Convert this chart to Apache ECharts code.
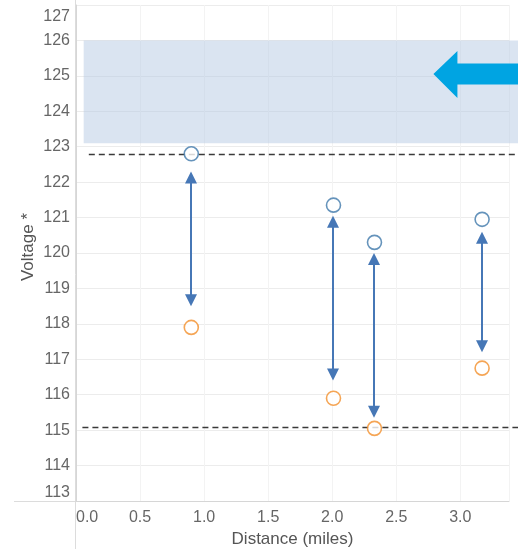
<!DOCTYPE html>
<html>
<head>
<meta charset="utf-8">
<script src="https://cdn.jsdelivr.net/npm/echarts@6/dist/echarts.min.js"></script>
<style>
  html, body { margin: 0; padding: 0; background: #fff; }
  #chart { width: 518px; height: 549px; }
</style>
</head>
<body>
<div id="chart"></div>
<script>
// Measured voltages along the feeder (miles from the substation)
const distance    = [0.9, 2.01, 2.33, 3.17];
const voltageHigh = [122.8, 121.35, 120.3, 120.95];
const voltageLow  = [117.9, 115.9, 115.05, 116.75];
// Span of each double-headed arrow between the paired readings
const arrowTop    = [122.3, 121.05, 120.0, 120.6];
const arrowBottom = [118.5, 116.4, 115.35, 117.2];
// Reference lines and the upper band
const upperLimit = { start: 0.1, value: 122.8 };
const lowerLimit = { start: 0.05, value: 115.1 };
const band = { start: 0.06, low: 123.1, high: 126.0 };
// Tip of the flow arrow
const flowArrow = [2.79, 125.05];

const X_MIN = 0, X_MAX = 3.38, Y_MIN = 113, Y_MAX = 127;
const GRID = { left: 76, right: 9, top: 5, bottom: 48 };
const W = 518, H = 549;

const tickColor = '#666';
const nameColor = '#555';
const fontFamily = 'Liberation Sans, Arial, sans-serif';
const blue = '#3f78aa';
const orange = '#f28e2b';
const arrowColor = '#4677b6';

const chart = echarts.init(document.getElementById('chart'), null, { renderer: 'canvas' });

const axisBottomY = H - GRID.bottom + 0.5;

chart.setOption({
  animation: false,
  backgroundColor: '#fff',
  grid: {
    left: GRID.left, right: GRID.right, top: GRID.top, bottom: GRID.bottom,
    containLabel: false, outerBoundsMode: 'none'
  },
  xAxis: {
    type: 'value', min: X_MIN, max: X_MAX, interval: 0.5,
    name: 'Distance (miles)', nameLocation: 'middle', nameGap: 29,
    nameTextStyle: { color: nameColor, fontSize: 17, fontFamily },
    axisLine: { show: true, lineStyle: { color: '#d6d6d6' } },
    axisTick: { show: false },
    splitLine: { show: true, lineStyle: { color: '#f3f3f3' } },
    axisLabel: {
      color: tickColor, fontSize: 16, fontFamily, margin: 9,
      alignMinLabel: 'left', showMaxLabel: false,
      formatter: v => v.toFixed(1)
    }
  },
  yAxis: {
    type: 'value', min: Y_MIN, max: Y_MAX, interval: 1,
    name: 'Voltage *', nameLocation: 'middle', nameGap: 39, nameMoveOverlap: false,
    nameTextStyle: { color: nameColor, fontSize: 17, fontFamily, padding: [0, 0, 0, 12] },
    axisLine: { show: true, lineStyle: { color: '#d6d6d6' } },
    axisTick: { show: false },
    splitLine: { show: true, lineStyle: { color: '#ececec' } },
    axisLabel: {
      color: tickColor, fontSize: 16, fontFamily, margin: 6,
      verticalAlignMaxLabel: 'top', verticalAlignMinLabel: 'bottom',
      formatter: v => (v === Y_MAX ? '{top|' + v + '}' : String(v)),
      rich: { top: { color: tickColor, fontSize: 16, fontFamily, padding: [4, 0, 0, 0] } }
    }
  },
  graphic: [
    // header borders running past the plot area
    { type: 'line', silent: true, z: -1,
      shape: { x1: GRID.left - 0.5, y1: 0, x2: GRID.left - 0.5, y2: H },
      style: { stroke: '#dcdcdc', lineWidth: 1 } },
    { type: 'line', silent: true, z: -1,
      shape: { x1: 14, y1: axisBottomY, x2: GRID.left, y2: axisBottomY },
      style: { stroke: '#dcdcdc', lineWidth: 1 } }
  ],
  series: [
    {
      // shaded band
      type: 'custom', clip: false, z: 1, silent: true,
      data: [[band.start, band.low, band.high]],
      renderItem: (params, api) => {
        const p1 = api.coord([api.value(0), api.value(2)]);
        const p2 = api.coord([api.value(0), api.value(1)]);
        return {
          type: 'rect',
          shape: { x: p1[0], y: p1[1], width: api.getWidth() - p1[0], height: p2[1] - p1[1] },
          style: { fill: 'rgba(176,198,226,0.47)' }
        };
      }
    },
    {
      // dashed limit lines
      type: 'custom', clip: false, z: 2, silent: true,
      data: [[upperLimit.start, upperLimit.value], [lowerLimit.start, lowerLimit.value]],
      renderItem: (params, api) => {
        const p = api.coord([api.value(0), api.value(1)]);
        const y = Math.round(p[1]) + 0.5;
        return {
          type: 'line',
          shape: { x1: p[0], y1: y, x2: api.getWidth(), y2: y },
          style: { stroke: '#3a3a3a', lineWidth: 1.3, lineDash: [6, 4] }
        };
      }
    },
    {
      // flow direction arrow
      type: 'custom', clip: false, z: 3, silent: true,
      data: [flowArrow],
      renderItem: (params, api) => {
        const p = api.coord([api.value(0), api.value(1)]);
        const x = p[0], y = p[1], right = api.getWidth();
        return {
          type: 'polygon',
          shape: { points: [
            [x, y], [x + 24, y - 23], [x + 24, y - 10.5], [right, y - 10.5],
            [right, y + 10.5], [x + 24, y + 10.5], [x + 24, y + 24]
          ] },
          style: { fill: '#00a4e2' }
        };
      }
    },
    {
      // double-headed arrows between paired readings
      type: 'custom', clip: false, z: 4, silent: true,
      data: distance.map((d, i) => [d, arrowTop[i], arrowBottom[i]]),
      renderItem: (params, api) => {
        const t = api.coord([api.value(0), api.value(1)]);
        const b = api.coord([api.value(0), api.value(2)]);
        const h = 12, w = 6, x = Math.round(t[0]);
        return {
          type: 'group',
          children: [
            { type: 'line', shape: { x1: x, y1: t[1] + h - 1, x2: x, y2: b[1] - h + 1 },
              style: { stroke: arrowColor, lineWidth: 2 } },
            { type: 'polygon', shape: { points: [[x, t[1]], [x - w, t[1] + h], [x + w, t[1] + h]] },
              style: { fill: arrowColor } },
            { type: 'polygon', shape: { points: [[x, b[1]], [x - w, b[1] - h], [x + w, b[1] - h]] },
              style: { fill: arrowColor } }
          ]
        };
      }
    },
    {
      name: 'High', type: 'scatter', z: 5,
      symbol: 'circle', symbolSize: 14,
      itemStyle: { color: '#fff', borderColor: blue, borderWidth: 1.6 },
      data: distance.map((d, i) => [d, voltageHigh[i]])
    },
    {
      name: 'Low', type: 'scatter', z: 5,
      symbol: 'circle', symbolSize: 14,
      itemStyle: { color: '#fff', borderColor: orange, borderWidth: 1.6 },
      data: distance.map((d, i) => [d, voltageLow[i]])
    }
  ]
});
</script>
</body>
</html>
